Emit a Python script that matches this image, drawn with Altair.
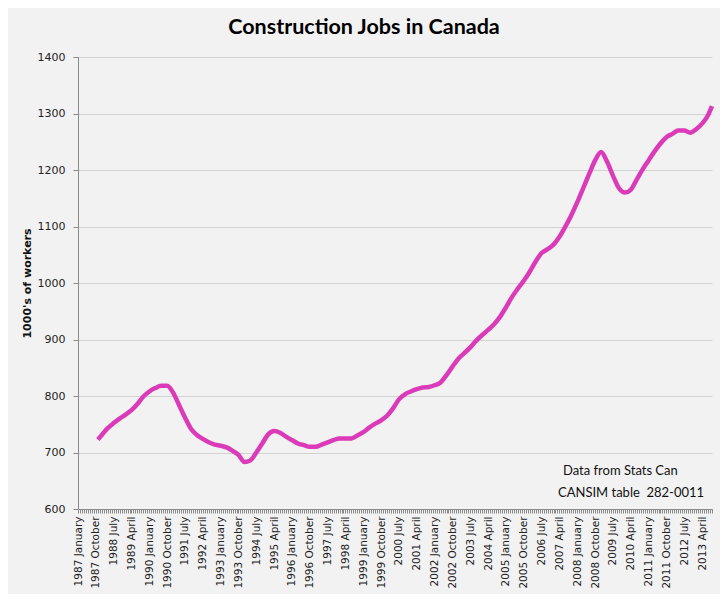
import altair as alt
import pandas as pd

# ---- axis categories -------------------------------------------------------
month_names = ["January", "February", "March", "April", "May", "June", "July",
               "August", "September", "October", "November", "December"]
months = [f"{y} {n}" for y in range(1987, 2014) for n in month_names][:321]  # 1987 Jan .. 2013 Sep
shown_labels = months[::9]  # 1987 January, 1987 October, ... 2013 April

# ---- series (thousands of workers) ----------------------------------------
obs_month = [10, 12, 15, 18, 21, 24, 27, 30, 33, 36, 39, 42, 45, 48, 51, 54, 57, 60,
             63, 66, 69, 72, 75, 78, 81, 84, 87, 90, 93, 96, 99, 102, 105, 108, 111,
             114, 117, 120, 123, 126, 129, 132, 135, 138, 141, 144, 147, 150, 153, 156,
             159, 162, 165, 168, 171, 174, 177, 180, 183, 186, 189, 192, 195, 198, 201,
             204, 207, 210, 213, 216, 219, 222, 225, 228, 231, 234, 237, 240, 243, 246,
             249, 252, 255, 258, 261, 264, 267, 270, 273, 276, 279, 282, 285, 288, 291,
             294, 297, 300, 303, 306, 309, 312, 315, 318, 320]
jobs = [723, 731, 743, 752, 760, 767, 775, 786, 799, 808, 814, 818, 818, 806, 784, 762,
        742, 731, 724, 718, 714, 712, 709, 703, 696, 683, 686, 700, 716, 732, 738, 735,
        728, 722, 716, 713, 710, 710, 714, 718, 722, 725, 725, 725, 730, 736, 744, 751,
        757, 765, 778, 794, 803, 808, 812, 815, 816, 819, 824, 837, 852, 866, 876, 886,
        898, 908, 917, 927, 940, 957, 975, 990, 1004, 1020, 1038, 1053, 1060, 1068, 1082,
        1100, 1120, 1143, 1168, 1193, 1217, 1232, 1215, 1190, 1168, 1160, 1165, 1183,
        1201, 1217, 1233, 1247, 1258, 1264, 1270, 1270, 1266, 1272, 1282, 1297, 1313]

y_ticks = [600, 700, 800, 900, 1000, 1100, 1200, 1300, 1400]
note_line1 = "Data from Stats Can"
note_line2 = "CANSIM table \u00a0282-0011"

df = pd.DataFrame({"month": [months[i] for i in obs_month], "jobs": jobs})

label_expr = ("indexof([" + ",".join(f"'{s}'" for s in shown_labels) +
              "], datum.value) >= 0 ? datum.value : ''")

line = alt.Chart(df).mark_line(
    color="#db3bb8", strokeWidth=4.5, interpolate="monotone"
).encode(
    x=alt.X("month:O",
            scale=alt.Scale(type="point", domain=months, padding=0),
            axis=alt.Axis(title=None, labelExpr=label_expr, labelAngle=-90,
                          labelOverlap=False, labelFont="DejaVu Sans", labelFontSize=10.5,
                          labelColor="#222222", labelPadding=3, tickSize=4,
                          tickColor="#8a8a8a", domainColor="#8a8a8a", grid=False)),
    y=alt.Y("jobs:Q",
            scale=alt.Scale(domain=[600, 1400], nice=False, zero=False),
            axis=alt.Axis(title="1000's of workers", values=y_ticks, format="d",
                          labelFont="DejaVu Sans", labelFontSize=11, labelColor="#222222",
                          labelPadding=8, tickSize=5, tickColor="#8a8a8a",
                          domainColor="#8a8a8a", gridColor="#d2d2d2",
                          titleFont="DejaVu Sans", titleFontSize=11, titleFontWeight="bold",
                          titleColor="#111111", titlePadding=5)),
)

note1 = alt.Chart(pd.DataFrame({"t": [note_line1]})).mark_text(
    align="left", baseline="middle", font="Lato", fontSize=13, color="#111111"
).encode(x=alt.value(485), y=alt.value(414), text="t:N")

note2 = alt.Chart(pd.DataFrame({"t": [note_line2]})).mark_text(
    align="left", baseline="middle", font="Lato", fontSize=13, color="#111111"
).encode(x=alt.value(480), y=alt.value(436), text="t:N")

chart = alt.layer(line, note1, note2).properties(
    width=634, height=452,
    padding={"left": 70, "top": 49, "right": 8, "bottom": 85},
    autosize=alt.AutoSizeParams(type="none"),
    background="#f2f2f2",
    title=alt.TitleParams("Construction Jobs in Canada", font="Lato", fontSize=21.5,
                          fontWeight="bold", color="#000000", anchor="middle",
                          dx=-31, offset=13),
).configure_view(stroke=None)

chart.save("out.html", embed_options={"renderer": "svg", "actions": False})
